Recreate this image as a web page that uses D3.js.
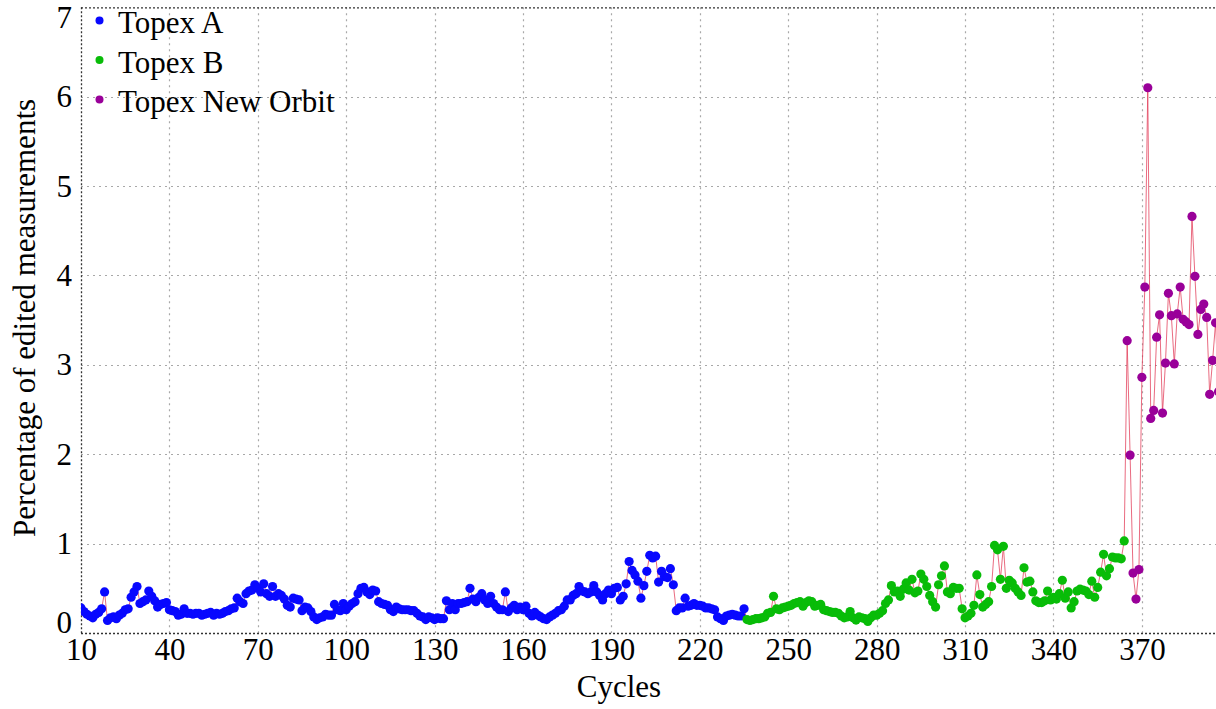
<!DOCTYPE html>
<html>
<head>
<meta charset="utf-8">
<script src="https://cdn.jsdelivr.net/npm/d3@7/dist/d3.min.js"></script>
<style>
  html, body { margin: 0; padding: 0; background: #fff; }
  svg { display: block; font-family: "Liberation Serif", "DejaVu Serif", serif; }
</style>
</head>
<body>
<svg id="chart" width="1216" height="709"></svg>
<script>
// Percentage of edited measurements per cycle, one value per cycle
const startA = 10;
const topexA = [
  0.28, 0.24, 0.21, 0.19, 0.17, 0.21, 0.23, 0.27, 0.46, 0.14,
  0.17, 0.18, 0.16, 0.20, 0.22, 0.26, 0.27, 0.40, 0.46, 0.52,
  0.33, 0.35, 0.37, 0.47, 0.41, 0.36, 0.29, 0.32, 0.33, 0.34,
  0.26, 0.25, 0.24, 0.20, 0.21, 0.27, 0.22, 0.22, 0.21, 0.22,
  0.22, 0.20, 0.21, 0.22, 0.23, 0.20, 0.22, 0.21, 0.22, 0.24,
  0.25, 0.27, 0.28, 0.39, 0.35, 0.33, 0.44, 0.47, 0.48, 0.54,
  0.50, 0.46, 0.55, 0.44, 0.41, 0.52, 0.41, 0.44, 0.42, 0.38,
  0.31, 0.29, 0.39, 0.38, 0.37, 0.25, 0.29, 0.28, 0.24, 0.18,
  0.15, 0.17, 0.18, 0.21, 0.20, 0.20, 0.32, 0.26, 0.25, 0.33,
  0.26, 0.30, 0.33, 0.35, 0.44, 0.50, 0.51, 0.46, 0.43, 0.48,
  0.47, 0.35, 0.33, 0.32, 0.31, 0.26, 0.24, 0.29, 0.27, 0.26,
  0.26, 0.26, 0.25, 0.25, 0.22, 0.19, 0.18, 0.15, 0.18, 0.17,
  0.15, 0.17, 0.16, 0.16, 0.36, 0.26, 0.33, 0.26, 0.33, 0.33,
  0.34, 0.35, 0.50, 0.38, 0.35, 0.40, 0.44, 0.37, 0.33, 0.41,
  0.33, 0.29, 0.26, 0.26, 0.46, 0.24, 0.28, 0.31, 0.26, 0.29,
  0.26, 0.30, 0.22, 0.19, 0.23, 0.20, 0.18, 0.16, 0.15, 0.18,
  0.20, 0.22, 0.25, 0.26, 0.30, 0.37, 0.37, 0.42, 0.44, 0.52,
  0.47, 0.46, 0.44, 0.46, 0.53, 0.46, 0.42, 0.37, 0.44, 0.48,
  0.44, 0.50, 0.51, 0.37, 0.41, 0.55, 0.80, 0.70, 0.65, 0.58,
  0.39, 0.53, 0.69, 0.87, 0.84, 0.86, 0.57, 0.69, 0.63, 0.62,
  0.72, 0.54, 0.25, 0.28, 0.28, 0.39, 0.30, 0.31, 0.33, 0.31,
  0.31, 0.30, 0.28, 0.28, 0.27, 0.26, 0.18, 0.16, 0.14, 0.19,
  0.20, 0.21, 0.20, 0.19, 0.19, 0.27
];

const startB = 236;
const topexB = [
  0.15, 0.14, 0.15, 0.16, 0.16, 0.17, 0.18, 0.22, 0.23, 0.41,
  0.27, 0.26, 0.28, 0.29, 0.30, 0.31, 0.33, 0.34, 0.35, 0.30,
  0.34, 0.36, 0.35, 0.30, 0.31, 0.32, 0.26, 0.25, 0.24, 0.23,
  0.23, 0.22, 0.19, 0.17, 0.18, 0.24, 0.17, 0.145, 0.18, 0.17,
  0.16, 0.13, 0.17, 0.20, 0.20, 0.22, 0.25, 0.33, 0.37, 0.53,
  0.46, 0.47, 0.41, 0.49, 0.56, 0.48, 0.60, 0.45, 0.47, 0.66,
  0.60, 0.52, 0.42, 0.35, 0.29, 0.54, 0.64, 0.75, 0.46, 0.44,
  0.51, 0.50, 0.50, 0.27, 0.17, 0.19, 0.22, 0.31, 0.65, 0.43,
  0.29, 0.32, 0.35, 0.52, 0.98, 0.93, 0.60, 0.97, 0.50, 0.59,
  0.56, 0.50, 0.46, 0.42, 0.73, 0.57, 0.58, 0.46, 0.36, 0.34,
  0.34, 0.36, 0.47, 0.37, 0.40, 0.38, 0.44, 0.59, 0.39, 0.46,
  0.28, 0.35, 0.47, 0.49, 0.48, 0.47, 0.43, 0.58, 0.40, 0.51,
  0.68, 0.88, 0.64, 0.72, 0.85, 0.84, 0.84, 0.83, 1.03
];

const startNew = 365;
const topexNew = [
  3.27, 1.99, 0.67, 0.38, 0.71, 2.86, 3.87, 6.10, 2.40, 2.49,
  3.31, 3.56, 2.46, 3.02, 3.80, 3.55, 3.01, 3.57, 3.87, 3.51,
  3.48, 3.45, 4.66, 3.99, 3.34, 3.62, 3.68, 3.53, 2.67, 3.05,
  3.47, 2.70
];

const seriesNames = ["Topex A", "Topex B", "Topex New Orbit"];
const seriesColors = ["#0808ff", "#08bc08", "#990099"];
const xTicks = [10, 40, 70, 100, 130, 160, 190, 220, 250, 280, 310, 340, 370];
const yTicks = [0, 1, 2, 3, 4, 5, 6, 7];

// Build per-series point lists
const toPoints = (start, vals, s) => vals.map((v, i) => ({ cycle: start + i, value: v, s }));
const series = [
  toPoints(startA, topexA, 0),
  toPoints(startB, topexB, 1),
  toPoints(startNew, topexNew, 2)
];
const allPoints = series.flat();

const plotLeft = 81, plotRight = 1216, plotTop = 7.3, plotBottom = 633;
const fontSize = 31;
const svg = d3.select("#chart");

const x = d3.scaleLinear().domain([10, 395.15]).range([plotLeft, plotRight]);
const y = d3.scaleLinear().domain([0, 7]).range([plotBottom, plotTop]);

svg.append("defs").append("clipPath").attr("id", "plotclip")
  .append("rect").attr("x", plotLeft).attr("y", 0)
  .attr("width", plotRight - plotLeft).attr("height", plotBottom + 5);

// Grid
const grid = svg.append("g").attr("stroke", "#a8a8a8").attr("stroke-width", 1.2)
  .attr("stroke-dasharray", "2,4");
grid.selectAll("line.v").data(xTicks.filter(t => t > 10)).join("line").attr("class", "v")
  .attr("x1", d => Math.round(x(d)) + 0.5).attr("x2", d => Math.round(x(d)) + 0.5)
  .attr("y1", plotTop).attr("y2", plotBottom);
grid.selectAll("line.h").data(yTicks.filter(t => t > 0 && t < 7)).join("line").attr("class", "h")
  .attr("x1", plotLeft).attr("x2", plotRight)
  .attr("y1", d => Math.round(y(d)) + 0.5).attr("y2", d => Math.round(y(d)) + 0.5);

// Frame (left, top, bottom) drawn as dark dotted lines
const frame = svg.append("g").attr("stroke", "#333").attr("stroke-width", 1.3)
  .attr("stroke-dasharray", "2,2").attr("fill", "none");
frame.append("line").attr("x1", plotLeft + 0.5).attr("x2", plotLeft + 0.5).attr("y1", plotTop).attr("y2", plotBottom);
frame.append("line").attr("x1", plotLeft).attr("x2", plotRight).attr("y1", plotTop + 0.5).attr("y2", plotTop + 0.5);
frame.append("line").attr("x1", plotLeft).attr("x2", plotRight).attr("y1", plotBottom + 0.5).attr("y2", plotBottom + 0.5);

// Connecting line through every cycle
const plot = svg.append("g").attr("clip-path", "url(#plotclip)");
plot.append("path")
  .datum(allPoints)
  .attr("fill", "none")
  .attr("stroke", "#e23a55")
  .attr("stroke-opacity", 0.75)
  .attr("stroke-width", 1)
  .attr("d", d3.line().x(d => x(d.cycle)).y(d => y(d.value)));

// Points
series.forEach((pts, i) => {
  plot.append("g").attr("fill", seriesColors[i])
    .selectAll("circle").data(pts).join("circle")
    .attr("cx", d => x(d.cycle)).attr("cy", d => y(d.value)).attr("r", 4.6);
});

// Axes
const xAxis = d3.axisBottom(x).tickValues(xTicks).tickSize(0).tickPadding(0);
const gx = svg.append("g").attr("transform", `translate(0,${plotBottom})`).call(xAxis);
gx.select(".domain").remove();
gx.selectAll("text").attr("dy", null).attr("y", 27)
  .attr("font-size", fontSize).attr("font-family", "Liberation Serif").attr("fill", "#000");

const yAxis = d3.axisLeft(y).tickValues(yTicks).tickFormat(d3.format("d")).tickSize(0).tickPadding(0);
const gy = svg.append("g").attr("transform", `translate(${plotLeft},0)`).call(yAxis);
gy.select(".domain").remove();
// edge labels are kept inside the plot's vertical extent
gy.selectAll(".tick").attr("transform", d => {
  const cy = Math.min(Math.max(y(d), plotTop + 10.5), plotBottom - 10.5);
  return `translate(0,${cy})`;
});
gy.selectAll("text").attr("x", -9).attr("dy", "0.34em")
  .attr("font-size", fontSize).attr("font-family", "Liberation Serif").attr("fill", "#000");

// Axis titles
svg.append("text").attr("x", 619).attr("y", 697).attr("text-anchor", "middle")
  .attr("font-size", fontSize).text("Cycles");
svg.append("text").attr("transform", "translate(35,318) rotate(-90)")
  .attr("text-anchor", "middle").attr("font-size", fontSize)
  .text("Percentage of edited measurements");

// Legend
const legend = svg.append("g");
seriesNames.forEach((name, i) => {
  const yy = 33 + i * 39.5;
  legend.append("circle").attr("cx", 99.5).attr("cy", yy - 12.5).attr("r", 4)
    .attr("fill", seriesColors[i]);
  legend.append("text").attr("x", 118).attr("y", yy).attr("font-size", fontSize).text(name);
});
</script>
</body>
</html>
